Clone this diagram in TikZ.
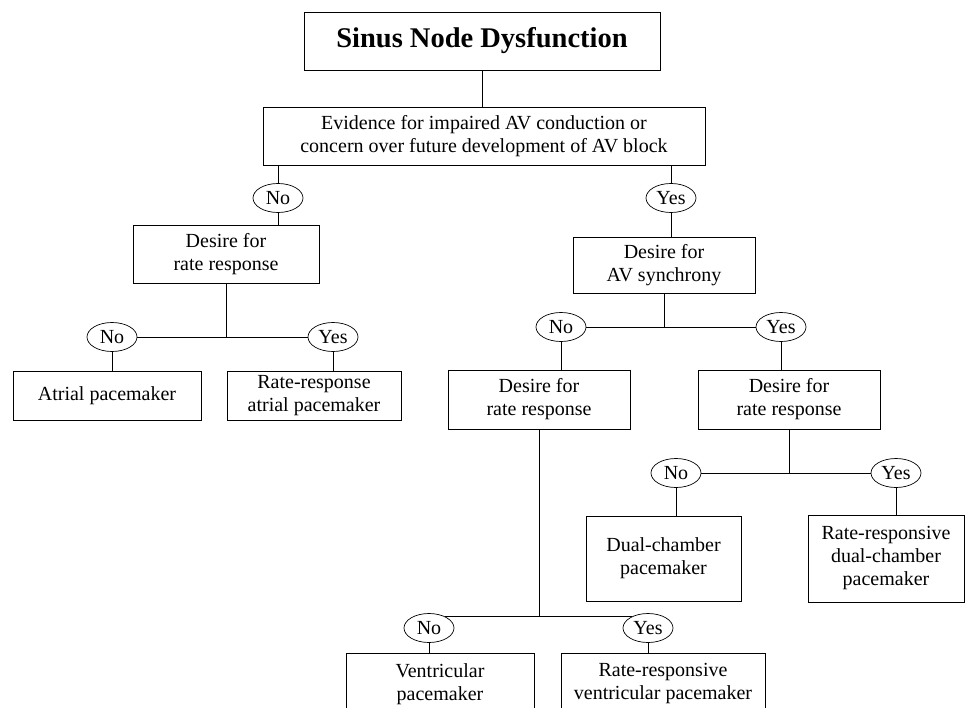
\documentclass[tikz,border=0pt]{standalone}
\usepackage{fontspec}
\setmainfont{Liberation Serif}
\usetikzlibrary{shapes.geometric,positioning}
\newcommand{\txtfont}{\fontsize{20}{23}\selectfont}
\newcommand{\headfont}{\fontsize{28.5}{32}\selectfont\bfseries}
\tikzset{
    box/.style={draw, rectangle, align=center, inner sep=0pt, font=\txtfont},
    answer/.style={draw, ellipse, line width=0.7pt, minimum width=50pt, minimum height=29pt, inner sep=0pt, font=\txtfont},
}

\begin{document}
\begin{tikzpicture}[x=1pt,y=-1pt,line width=0.9pt]
    \useasboundingbox (0,0) rectangle (968,708);
    % questions
    \node[box, font=\headfont, minimum width=356pt, minimum height=58pt] (sinus) at (482,41) {Sinus Node Dysfunction};
    \node[box, minimum width=442pt, minimum height=58pt] (evid) at (484,136) {Evidence for impaired AV conduction or\\concern over future development of AV block};
    \node[box, minimum width=186pt, minimum height=58pt] (rateL) at (226,254) {Desire for\\rate response};
    \node[box, minimum width=182pt, minimum height=56pt] (sync) at (664,265) {Desire for\\AV synchrony};
    \node[box, minimum width=182pt, minimum height=59pt] (rateM) at (539,399.5) {Desire for\\rate response};
    \node[box, minimum width=182pt, minimum height=59pt] (rateR) at (789,399.5) {Desire for\\rate response};
    % answers
    \node[answer] (no1) at (278,198) {No};
    \node[answer] (yes1) at (671,198) {Yes};
    \node[answer] (no2) at (112,337) {No};
    \node[answer] (yes2) at (333,337) {Yes};
    \node[answer] (no3) at (561,327) {No};
    \node[answer] (yes3) at (781,327) {Yes};
    \node[answer] (no4) at (676,473) {No};
    \node[answer] (yes4) at (896,473) {Yes};
    \node[answer] (no5) at (429,628) {No};
    \node[answer] (yes5) at (648,628) {Yes};
    % pacemakers
    \node[box, minimum width=188pt, minimum height=49pt] (atrial) at (107,395.5) {Atrial pacemaker};
    \node[box, minimum width=174pt, minimum height=49pt] (rrAtrial) at (314,395.5) {Rate-response\\atrial pacemaker};
    \node[box, minimum width=155pt, minimum height=85pt] (dual) at (663.5,558.5) {Dual-chamber\\pacemaker};
    \node[box, minimum width=156pt, minimum height=87pt] (rrDual) at (886,558.5) {Rate-responsive\\dual-chamber\\pacemaker};
    \node[box, minimum width=188pt, minimum height=62pt] (vent) at (440,684) {Ventricular\\pacemaker};
    \node[box, minimum width=204pt, minimum height=62pt] (rrVent) at (663,684) {Rate-responsive\\ventricular pacemaker};

    % connectors
    \draw (sinus.south) -- (sinus.south |- evid.north);
    \draw (no1.north) -- (no1.north |- evid.south);
    \draw (yes1.north) -- (yes1.north |- evid.south);
    \draw (no1.south) -- (no1.south |- rateL.north);
    \draw (yes1.south) -- (yes1.south |- sync.north);

    \draw (rateL.south) -- (rateL.south |- no2.east);
    \draw (no2) -- (yes2);
    \draw (no2.south) -- (no2.south |- atrial.north);
    \draw (yes2.south) -- (yes2.south |- rrAtrial.north);

    \draw (sync.south) -- (sync.south |- no3.east);
    \draw (no3) -- (yes3);
    \draw (no3.south) -- (no3.south |- rateM.north);
    \draw (yes3.south) -- (yes3.south |- rateR.north);

    \draw (rateR.south) -- (rateR.south |- no4.east);
    \draw (no4) -- (yes4);
    \draw (no4.south) -- (no4.south |- dual.north);
    \draw (yes4.south) -- (yes4.south |- rrDual.north);

    \draw (rateM.south) -- (rateM.south |- no5.35);
    \draw (no5.35) -- (yes5.145);
    \draw (no5.south) -- (no5.south |- vent.north);
    \draw (yes5.south) -- (yes5.south |- rrVent.north);
\end{tikzpicture}
\end{document}
